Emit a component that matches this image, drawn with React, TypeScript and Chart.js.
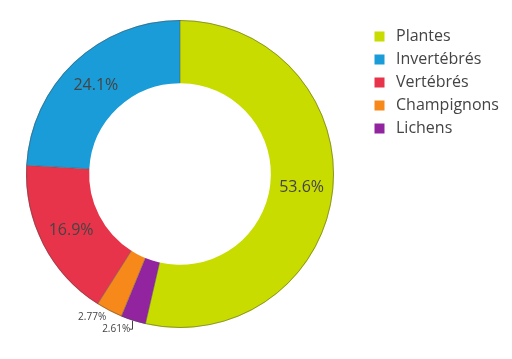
import React, { useEffect, useRef } from "react";
import { Chart, registerables } from "chart.js";

Chart.register(...registerables);

// Legend order
const categories = ["Plantes", "Invertébrés", "Vertébrés", "Champignons", "Lichens"];
const values = [53.6, 24.1, 16.9, 2.77, 2.61];
const percentLabels = ["53.6%", "24.1%", "16.9%", "2.77%", "2.61%"];
const colors = ["#c8dc00", "#1a9cd8", "#e8344a", "#f7891a", "#92249f"];
// Clockwise order of slices from 12 o'clock
const sliceOrder = [0, 4, 3, 2, 1];

const FONT = "'Open Sans', 'Noto Sans', sans-serif";
const EDGE = "rgba(80,80,80,0.5)";

const labelPlugin = {
  id: "donutLabels",
  afterDatasetsDraw(chart: any) {
    const ctx = chart.ctx;
    const meta = chart.getDatasetMeta(0);
    ctx.save();
    // outlines: outer edge and slice separators (no inner edge)
    meta.data.forEach((arc: any) => {
      const { x, y, startAngle, endAngle, innerRadius, outerRadius } = arc.getProps(
        ["x", "y", "startAngle", "endAngle", "innerRadius", "outerRadius"],
        true
      );
      ctx.strokeStyle = EDGE;
      ctx.lineWidth = 1;
      ctx.beginPath();
      ctx.arc(x, y, outerRadius - 0.5, startAngle, endAngle);
      ctx.stroke();
      ctx.beginPath();
      ctx.moveTo(x + innerRadius * Math.cos(startAngle), y + innerRadius * Math.sin(startAngle));
      ctx.lineTo(x + outerRadius * Math.cos(startAngle), y + outerRadius * Math.sin(startAngle));
      ctx.stroke();
    });
    meta.data.forEach((arc: any, i: number) => {
      const idx = sliceOrder[i];
      const { x, y, startAngle, endAngle, innerRadius, outerRadius } = arc.getProps(
        ["x", "y", "startAngle", "endAngle", "innerRadius", "outerRadius"],
        true
      );
      const mid = (startAngle + endAngle) / 2;
      const text = percentLabels[idx];
      if (values[idx] > 5) {
        const r = (innerRadius + outerRadius) / 2;
        ctx.font = `16px ${FONT}`;
        ctx.fillStyle = "#444";
        ctx.textAlign = "center";
        ctx.textBaseline = "middle";
        ctx.fillText(text, x + r * Math.cos(mid), y + r * Math.sin(mid));
      } else {
        const ox = x + outerRadius * Math.cos(mid);
        const oy = y + outerRadius * Math.sin(mid);
        ctx.font = `10px ${FONT}`;
        ctx.fillStyle = "#444";
        ctx.textAlign = "right";
        ctx.textBaseline = "middle";
        if (idx === 3) {
          ctx.fillText(text, ox - 3, oy + 6);
        } else {
          ctx.strokeStyle = "#444";
          ctx.lineWidth = 1;
          ctx.beginPath();
          ctx.moveTo(Math.round(ox) - 0.5, oy);
          ctx.lineTo(Math.round(ox) - 0.5, oy + 8.5);
          ctx.lineTo(Math.round(ox) - 3.5, oy + 8.5);
          ctx.stroke();
          ctx.fillText(text, ox - 3, oy + 8.5);
        }
      }
    });
    ctx.restore();
  },
  afterDraw(chart: any) {
    const ctx = chart.ctx;
    ctx.save();
    categories.forEach((c, i) => {
      const cy = 36 + i * 23;
      ctx.fillStyle = colors[i];
      ctx.fillRect(374.5, cy - 4.5, 10, 10);
      ctx.font = `16px ${FONT}`;
      ctx.fillStyle = "#444";
      ctx.textAlign = "left";
      ctx.textBaseline = "middle";
      ctx.fillText(c, 396, cy + 0.5);
    });
    ctx.restore();
  },
};

export default function App() {
  const ref = useRef<HTMLCanvasElement | null>(null);
  useEffect(() => {
    if (!ref.current) return;
    const chart = new Chart(ref.current, {
      type: "doughnut",
      data: {
        labels: sliceOrder.map((i) => categories[i]),
        datasets: [
          {
            data: sliceOrder.map((i) => values[i]),
            backgroundColor: sliceOrder.map((i) => colors[i]),
            borderWidth: 0,
          },
        ],
      },
      options: {
        responsive: false,
        animation: false,
        cutout: "59%",
        layout: { padding: { left: 26, right: 178, top: 20, bottom: 31 } },
        plugins: {
          legend: { display: false },
          tooltip: { enabled: false },
        },
        events: [],
      },
      plugins: [labelPlugin],
    });
    return () => chart.destroy();
  }, []);
  return (
    <div style={{ position: "absolute", left: 0, top: 0, width: 512, height: 359, background: "#fff" }}>
      <canvas ref={ref} width={512} height={359} style={{ display: "block" }} />
    </div>
  );
}
